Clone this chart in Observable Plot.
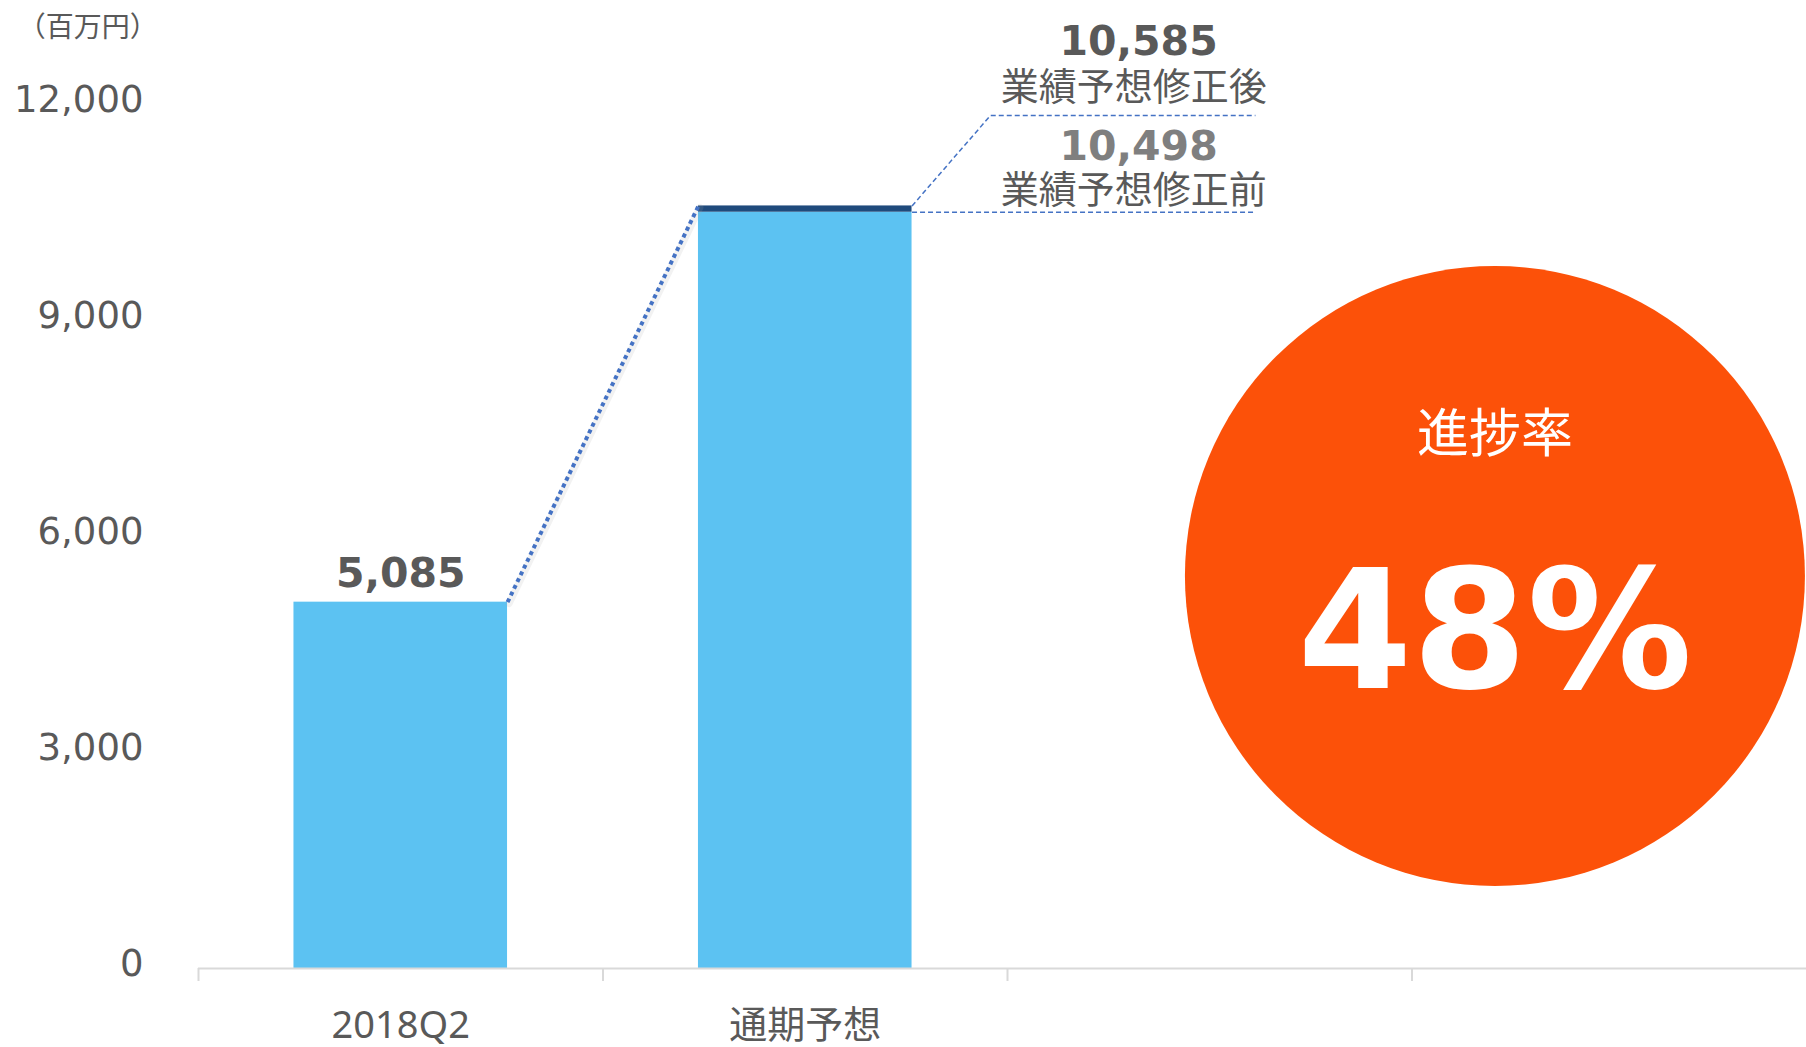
<!DOCTYPE html>
<html><head><meta charset="utf-8">
<script src="https://cdn.jsdelivr.net/npm/d3@7"></script>
<script src="https://cdn.jsdelivr.net/npm/@observablehq/plot@0.6"></script>
<style>body{margin:0;background:#fff;overflow:hidden}</style>
</head><body><div id="chart"></div>
<script>
// ---- data ----
const categories = ["2018Q2", "通期予想", "", ""];
const actualValues = [5085];                 // 2018Q2 actual
const forecastBefore = [10498];              // 通期予想 (before revision)
const forecastAfter = [10585];               // 通期予想 (after revision)
const yTicks = [0, 3000, 6000, 9000, 12000];
const progressRate = [48];
const unitLabel = ["（百万円）"];
const revisionLabels = ["業績予想修正後", "業績予想修正前"];
const progressLabel = ["進捗率"];

// ---- layout ----
const W = 1806, H = 1047;
const half = 0.264;
const c0 = 0.5, c1 = 1.5;
const fmt = d3.format(",");
const grey = "#595959";
const lightBlue = "#5CC2F2", navy = "#1F4A7C", lineBlue = "#4472C4";
const numFont = "DejaVu Sans", cjk = "'Noto Sans CJK JP', sans-serif";
const latinCjk = "'Noto Sans', 'Noto Sans CJK JP', sans-serif";

const bars = [
  {x: c0, y1: 0, y2: actualValues[0], fill: lightBlue},
  {x: c1, y1: 0, y2: forecastBefore[0], fill: lightBlue},
  {x: c1, y1: forecastBefore[0], y2: forecastAfter[0], fill: navy}
];
const connector = [{x: c0 + half, y: actualValues[0]}, {x: c1 - half, y: forecastAfter[0]}];

const chart = Plot.plot({
  width: W, height: H,
  marginLeft: 198, marginRight: -10, marginTop: 103.5, marginBottom: 79,
  style: {fontFamily: cjk, background: "white", overflow: "visible"},
  x: {type: "linear", domain: [0, 4], axis: null},
  y: {domain: [0, 12000], axis: null},
  marks: [
    // circle badge
    Plot.dot(progressRate, {x: () => 3.205, y: () => 5448, r: 310, fill: "#FC5109", stroke: null}),
    Plot.text(progressLabel, {x: () => 3.205, y: () => 7163, text: d => d, fill: "white", fontSize: 52, lineAnchor: "bottom", fontFamily: cjk}),
    Plot.text(progressRate, {x: () => 3.205, y: () => 3900, text: d => d + "%", fill: "white", fontSize: 165, fontWeight: "bold", lineAnchor: "bottom", fontFamily: numFont}),
    // bars
    Plot.rectY(bars, {x1: d => d.x - half, x2: d => d.x + half, y1: "y1", y2: "y2", fill: "fill"}),
    // baseline & boundary ticks
    Plot.ruleY([0], {stroke: "#d9d9d9", strokeWidth: 2}),
    Plot.ruleX([0, 1, 2, 3], {y1: 0, y2: 0, insetBottom: -13, stroke: "#d9d9d9", strokeWidth: 2}),
    // axes
    Plot.axisY(yTicks, {tickSize: 0, tickPadding: 55, tickFormat: fmt, fontSize: 37, fontFamily: numFont, fill: grey, dy: -4, label: null}),
    Plot.axisX([c0, c1], {tickSize: 0, tickPadding: 43, tickFormat: d => categories[Math.floor(d)], fontSize: 38, fontFamily: latinCjk, fill: grey, label: null}),
    // connector (dotted) with soft shadow
    Plot.line(connector, {x: "x", y: "y", dx: 1.5, dy: 1.5, stroke: "#aaa", strokeOpacity: 0.15, strokeWidth: 7}),
    Plot.line(connector, {x: "x", y: "y", stroke: lineBlue, strokeWidth: 4, strokeDasharray: "4,3.5", strokeLinecap: "butt"}),
    // leader lines
    Plot.line([{x: c1 + half, y: forecastAfter[0]}, {x: 1.958, y: 11841}, {x: 2.613, y: 11841}], {x: "x", y: "y", stroke: lineBlue, strokeWidth: 1.5, strokeDasharray: "5,3", strokeLinecap: "butt"}),
    Plot.line([{x: c1 + half, y: forecastBefore[0]}, {x: 2.613, y: forecastBefore[0]}], {x: "x", y: "y", stroke: lineBlue, strokeWidth: 1.5, strokeDasharray: "5,3", strokeLinecap: "butt"}),
    // value labels
    Plot.text(actualValues, {x: () => c0, y: d => d, dy: -15, text: d => fmt(d), fontSize: 41, fontWeight: "bold", fill: grey, lineAnchor: "bottom", fontFamily: numFont}),
    Plot.text(forecastAfter, {x: () => 2.324, y: () => 12687, text: d => fmt(d), fontSize: 41, fontWeight: "bold", fill: grey, lineAnchor: "bottom", fontFamily: numFont}),
    Plot.text([revisionLabels[0]], {x: () => 2.312, y: () => 12049, text: d => d, fontSize: 38, fill: grey, lineAnchor: "bottom", fontFamily: cjk}),
    Plot.text(forecastBefore, {x: () => 2.324, y: () => 11216, text: d => fmt(d), fontSize: 41, fontWeight: "bold", fill: "#7F7F7F", lineAnchor: "bottom", fontFamily: numFont}),
    Plot.text([revisionLabels[1]], {x: () => 2.312, y: () => 10619, text: d => d, fontSize: 38, fill: grey, lineAnchor: "bottom", fontFamily: cjk}),
    // unit label
    Plot.text(unitLabel, {x: () => -0.274, y: () => 12930, text: d => d, fontSize: 28, fill: grey, lineAnchor: "bottom", fontFamily: cjk})
  ]
});
document.getElementById("chart").appendChild(chart);
</script>
</body></html>
